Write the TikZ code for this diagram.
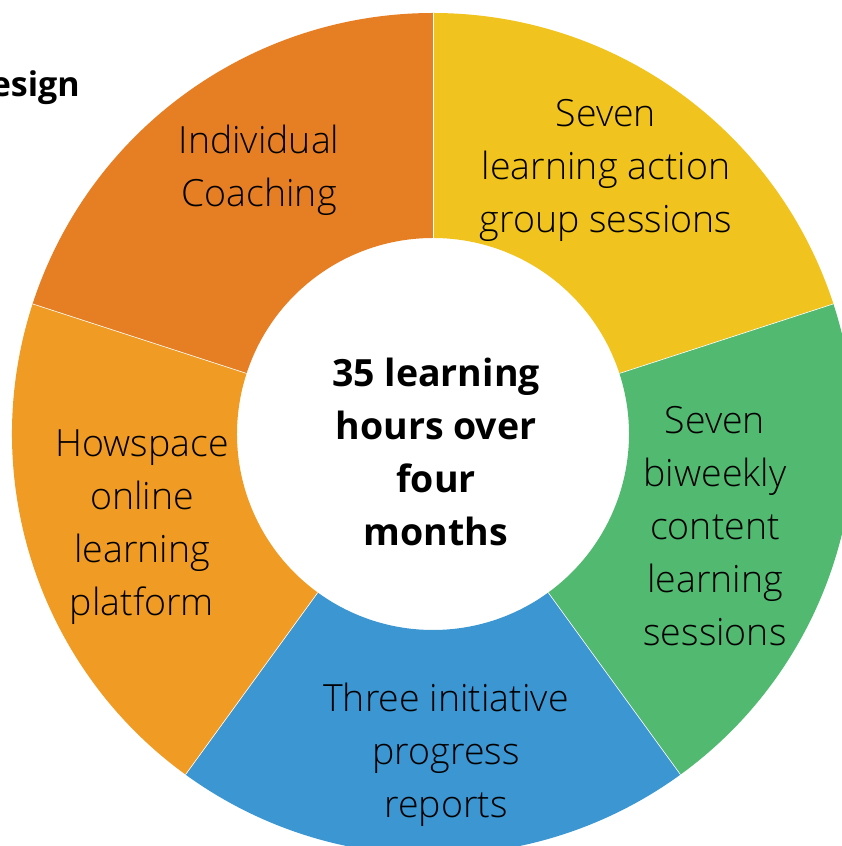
\documentclass[tikz,border=0pt]{standalone}
\usepackage{fontspec}
\setmainfont{Open Sans}
\IfFontExistsTF{Open Sans Light}{\newfontfamily\lightfont{Open Sans Light}}{\newcommand\lightfont{\normalfont}}
\usetikzlibrary{calc}
\definecolor{cdarkorange}{HTML}{E67E24}
\definecolor{cyellow}{HTML}{F0C31E}
\definecolor{cgreen}{HTML}{52B970}
\definecolor{cblue}{HTML}{3B96D2}
\definecolor{clightorange}{HTML}{F09B23}
\begin{document}
\begin{tikzpicture}[x=1pt,y=1pt,
  seg/.style={draw=white,line width=0.6pt},
  lbl/.style={align=center,inner sep=0pt,text=black,font=\lightfont\fontsize{37.5}{53}\selectfont},
  ctr/.style={align=center,inner sep=0pt,text=black,font=\fontsize{37.5}{53}\selectfont\bfseries},
  ttl/.style={inner sep=0pt,text=black,font=\fontsize{34}{40}\selectfont\bfseries}]
\useasboundingbox (0,0) rectangle (842,846);
\clip (0,0) rectangle (842,846);
\coordinate (c) at (433,412);
\def\Ro{421}
\def\Ri{196}
\foreach \a/\b/\col in {90/162/cdarkorange, 18/90/cyellow, -54/18/cgreen, -126/-54/cblue, 162/234/clightorange}{
  \fill[\col] ($(c)+(\a:\Ro)$) arc[start angle=\a, end angle=\b, radius=\Ro]
     -- ($(c)+(\b:\Ri)$) arc[start angle=\b, end angle=\a, radius=\Ri] -- cycle;
}
\foreach \a in {90,18,-54,-126,162}{
  \draw[seg] ($(c)+(\a:\Ri)$) -- ($(c)+(\a:\Ro)$);
}
\node[lbl] (coach) at (259,676) {Individual\\Coaching};
\node[lbl] (action) at (606,676) {Seven\\learning action\\group sessions};
\node[lbl] (content) at (715,320) {Seven\\biweekly\\content\\learning\\sessions};
\node[lbl] (reports) at (446,91) {Three initiative\\progress\\reports};
\node[lbl] (howspace) at (142,319) {Howspace\\online\\learning\\platform};
\node[ctr] (centre) at (436,394) {35 learning\\hours over\\four\\months};
\node[ttl,anchor=base east] (title) at (80,749) {esign};
\end{tikzpicture}
\end{document}
